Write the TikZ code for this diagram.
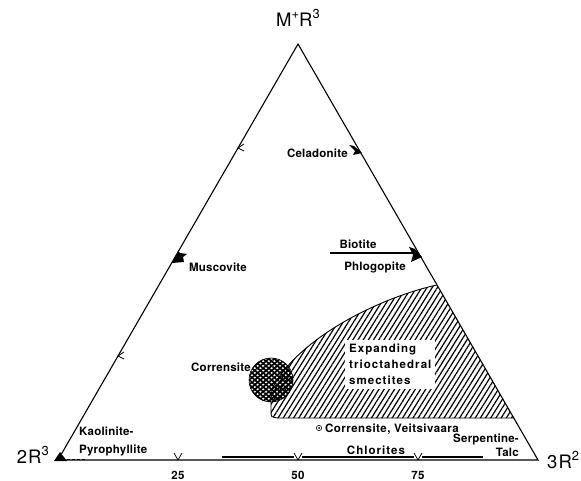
\documentclass[tikz,border=0pt]{standalone}
\usepackage{fontspec}
\setmainfont{TeX Gyre Heros}
\newfontfamily\labfont[LetterSpace=2]{TeX Gyre Heros}
\newfontfamily\widefont[LetterSpace=9]{TeX Gyre Heros}
\newfontfamily\midfont[LetterSpace=4]{TeX Gyre Heros}
\newfontfamily\bigfont[LetterSpace=6]{TeX Gyre Heros}
\newcommand\supx[1]{\raisebox{0.42em}{\fontsize{13}{14}\selectfont #1}}
\usetikzlibrary{patterns.meta,arrows.meta,calc}
\begin{document}
\begin{tikzpicture}[x=1pt,y=-1pt,
  lab/.style={font=\labfont\bfseries\fontsize{11.5}{13}\selectfont, inner sep=0pt},
  big/.style={font=\bigfont\fontsize{18.5}{20}\selectfont, inner sep=0pt},
  edgeline/.style={line width=1.1pt, line join=miter},
  tickmark/.style={line width=0.8pt},
  hatch/.style={pattern={Lines[angle=58,distance=4.4pt,line width=1.2pt]}},
  xhatchA/.style={pattern={Lines[angle=40,distance=3.6pt,line width=1.7pt]}},
  xhatchB/.style={pattern={Lines[angle=-40,distance=3.6pt,line width=1.7pt]}}]
\useasboundingbox (0,0) rectangle (581,481);
% vertices
\coordinate (A) at (298,44);
\coordinate (L) at (58,460);
\coordinate (R) at (538,460);
% hatched field
\path[hatch] (437,285) .. controls (390,295) and (310,330) .. (277,380)
  .. controls (272,388) .. (271,398) -- (271,412) .. controls (271,417) .. (278,418)
  -- (514,418) -- cycle;
\draw[line width=0.9pt] (437,285) .. controls (390,295) and (310,330) .. (277,380)
  .. controls (272,388) .. (271,398) -- (271,412) .. controls (271,417) .. (278,418)
  -- (514,418);
% corrensite circle
\coordinate (cc) at (271,380);
\path[xhatchA] (cc) circle[radius=22];
\path[xhatchB] (cc) circle[radius=22];
\draw[line width=0.6pt] (cc) circle[radius=22];
% triangle
\draw[edgeline] (L) -- (A) -- (R) -- cycle;
% ticks bottom
\foreach \x in {178,298,418}{\draw[tickmark] (\x-4,453) -- (\x,460) -- (\x+4,453);}
% ticks left
\coordinate (t25) at (118,356);
\coordinate (t75) at (238,148);
\draw[tickmark] ($(t25)+(6,-4)$) -- (t25) -- ($(t25)+(6,3)$);
\draw[tickmark] ($(t75)+(6,-4)$) -- (t75) -- ($(t75)+(6,3)$);
% markers
\coordinate (cel) at (358,148);
\coordinate (mus) at (176,256);
\coordinate (bio) at (416,253);
\coordinate (bioS) at (330,253);
\fill (349,145) -- (354,146) -- (362,153) -- (353,155) -- (355,151) -- cycle;
\fill (172,263) -- (178,251) -- (180,253) -- (187,254) -- (183,257) -- (184,262) -- cycle;
\draw[line width=2.2pt] (bioS) -- (bio);
\fill (409,247) -- (415,249) -- (422,257) -- (411,262) -- (413,255) -- cycle;
\fill (54,461) -- (60,452) -- (67,461) -- cycle;
\draw[dashed, line width=1pt, dash pattern=on 3pt off 2pt] (67,459) -- (86,459);
% chlorites bar
\draw[line width=2pt] (222,457) -- (294,457);
\draw[line width=2pt] (302,457) -- (414,457);
\draw[line width=2pt] (422,457) -- (483,457);
% labels
\node[big] (topl) at (298,18) {M\supx{+}R\supx{3}};
\node[big, anchor=east] (left) at (49,455) {2R\supx{3}};
\node[big, anchor=west] (right) at (547,460) {3R\supx{2}};
\node[lab, anchor=east] (cell) at (348,153) {Celadonite};
\node[lab] (musl) at (218,267) {Muscovite};
\node[lab] (biol) at (358,244) {Biotite};
\node[lab] (phl) at (375,267) {Phlogopite};
\node[lab] (corl) at (221,367) {Corrensite};
\node[lab, fill=white, align=left, inner sep=4pt, anchor=north west,
  font=\widefont\bfseries\fontsize{11.5}{16}\selectfont] (exp) at (345,340) {Expanding\\trioctahedral\\smectites};
\draw[line width=0.6pt] (319,428) circle[radius=2.6];
\fill (319,428) circle[radius=1];
\node[lab, anchor=west, font=\midfont\bfseries\fontsize{11.5}{13}\selectfont] (veit) at (325,429) {Corrensite, Veitsivaara};
\node[lab, align=left, anchor=west, font=\labfont\bfseries\fontsize{11.5}{18}\selectfont] (kao) at (79,441) {Kaolinite-\\Pyrophyllite};
\node[lab, font=\widefont\bfseries\fontsize{11.5}{13}\selectfont] (chl) at (376,450) {Chlorites};
\node[lab, align=right, anchor=east, font=\labfont\bfseries\fontsize{11.5}{14}\selectfont] (ser) at (519,445) {Serpentine-\\Talc};
\node[lab] (n25) at (178,475) {25};
\node[lab] (n50) at (298,475) {50};
\node[lab] (n75) at (418,475) {75};
\end{tikzpicture}
\end{document}
